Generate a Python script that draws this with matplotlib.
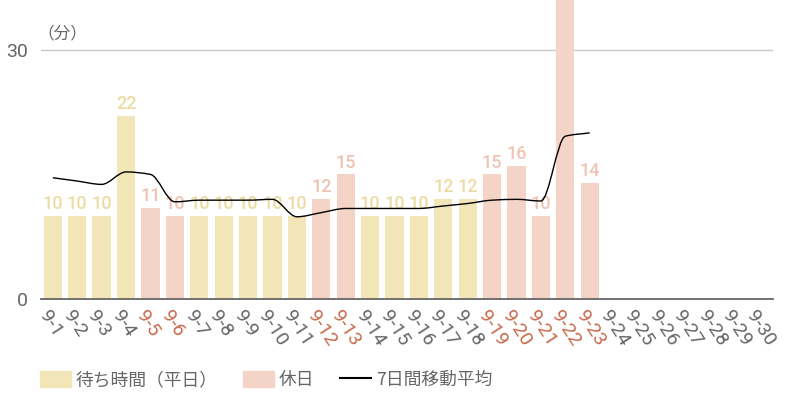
import matplotlib
matplotlib.use("Agg")
import matplotlib.pyplot as plt
from matplotlib.patches import Patch
from matplotlib.lines import Line2D
from matplotlib.path import Path
from matplotlib.patches import PathPatch
import numpy as np

plt.rcParams['font.family'] = ['Roboto', 'Noto Sans CJK JP', 'DejaVu Sans']

days = [f"9-{d}" for d in range(1, 31)]
wait = [10, 10, 10, 22, 11, 10, 10, 10, 10, 10, 10, 12, 15, 10, 10, 10,
        12, 12, 15, 16, 10, 65, 14]
holiday = [5, 6, 12, 13, 19, 20, 21, 22, 23]
avg7 = [14.6, 14.2, 13.8, 15.3, 15.0, 11.7, 11.9, 11.9, 11.9, 12.0, 9.9,
        10.4, 10.9, 10.9, 10.9, 10.9, 11.2, 11.5, 11.9, 12.0, 11.8, 19.6, 20.0]

C_WD, C_WD_TXT = "#f2e6b8", "#ecdca4"
C_HD, C_HD_TXT = "#f5d4c8", "#efc3b1"
C_GRAY = "#666666"
C_RED = "#c8694c"
YTOP = 36


def monotone_path(x, y):
    """cubic bezier path through the points (monotone-x style smoothing)"""
    x, y = np.asarray(x, float), np.asarray(y, float)
    n = len(x)
    d = np.diff(y) / np.diff(x)
    m = np.zeros(n)
    m[0], m[-1] = d[0], d[-1]
    for i in range(1, n - 1):
        if d[i - 1] * d[i] <= 0:
            m[i] = 0
        else:
            m[i] = 2 / (1 / d[i - 1] + 1 / d[i])
    verts, codes = [(x[0], y[0])], [Path.MOVETO]
    for i in range(n - 1):
        h = (x[i + 1] - x[i]) / 3
        verts += [(x[i] + h, y[i] + m[i] * h), (x[i + 1] - h, y[i + 1] - m[i + 1] * h),
                  (x[i + 1], y[i + 1])]
        codes += [Path.CURVE4] * 3
    return Path(verts, codes)


fig = plt.figure(figsize=(8, 4), dpi=100)
ax = fig.add_axes([0.0508, 0.2525, 0.9151, 0.7475])

xs = np.arange(len(wait))
cols = [C_HD if i + 1 in holiday else C_WD for i in xs]
ax.bar(xs, wait, width=0.75, color=cols, zorder=2)
for i, v in zip(xs, wait):
    if v + 2 > YTOP:   # label of a bar running off the top is not shown
        continue
    ax.text(i, v + 0.35, str(v), ha="center", va="bottom", fontsize=13,
            fontweight="medium",
            color=C_HD_TXT if i + 1 in holiday else C_WD_TXT, zorder=3)

ax.add_patch(PathPatch(monotone_path(xs, avg7), fill=False, color="black",
                       lw=1.0, zorder=4))

ax.set_xlim(-0.5, 29.5)
ax.set_ylim(0, YTOP)
ax.axhline(30, color="#c8c8c8", lw=1, zorder=1)
for s in ax.spines.values():
    s.set_visible(False)
ax.axhline(0, color=C_GRAY, lw=1.3, zorder=5, clip_on=False)

ax.set_yticks([0, 30])
ax.tick_params(axis="y", length=0, pad=9, labelsize=14, labelcolor=C_GRAY)
ax.set_xticks(range(30))
ax.set_xticklabels([])
ax.tick_params(axis="x", length=0)
for i, lab in enumerate(days):
    ax.text(i - 0.1, -1.0, lab, rotation=-57, rotation_mode="anchor",
            ha="left", va="top", fontsize=14,
            color=C_RED if i + 1 in holiday else C_GRAY)

fig.text(0.047, 0.895, "（分）", fontsize=12, color=C_GRAY,
         family=["Noto Sans CJK JP"], ha="left", va="bottom")

handles = [Patch(color=C_WD), Patch(color=C_HD), Line2D([], [], color="black", lw=1.5)]
labels = ["待ち時間（平日）", "休日", "7日間移動平均"]
fig.legend(handles, labels, loc="center left", bbox_to_anchor=(0.05, 0.05),
           ncol=3, frameon=False, handlelength=1.75, handleheight=0.95,
           handletextpad=0.25, columnspacing=1.45, borderaxespad=0, borderpad=0,
           prop={"family": ["Noto Sans CJK JP"], "size": 12.8},
           labelcolor=C_GRAY)

fig.savefig("out.png", dpi=100)
